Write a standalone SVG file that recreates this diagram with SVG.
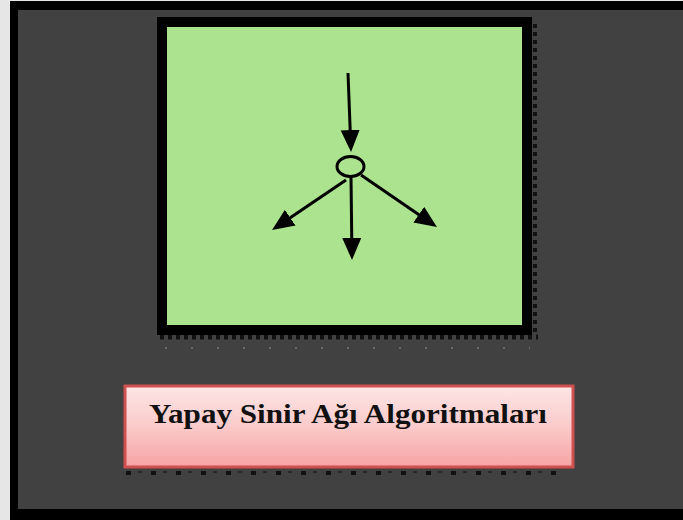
<svg xmlns="http://www.w3.org/2000/svg" width="683" height="520" viewBox="0 0 683 520">
  <defs>
    <linearGradient id="pinkGrad" x1="0" y1="0" x2="0" y2="1">
      <stop offset="0" stop-color="#fde6e6"/>
      <stop offset="0.5" stop-color="#fbcaca"/>
      <stop offset="1" stop-color="#f6a3a3"/>
    </linearGradient>
    <marker id="arrow" markerUnits="userSpaceOnUse" markerWidth="24" markerHeight="20" refX="13" refY="9.5" orient="auto">
      <path d="M0,0 L22,9.5 L0,19 z" fill="#000"/>
    </marker>
  </defs>
  <style>
    .conn { stroke: #000; stroke-width: 3; fill: none; marker-end: url(#arrow); }
    .shadowDots { stroke: #111; fill: none; }
    .label { font-family: "Liberation Serif", "Times New Roman", serif; font-weight: bold; font-size: 28px; fill: #111; }
  </style>

  <!-- page background and frame -->
  <rect x="0" y="0" width="683" height="520" fill="#e6e6e6"/>
  <rect x="10" y="1" width="673" height="519" fill="#000"/>
  <rect x="18" y="10" width="665" height="499" fill="#414141"/>

  <g id="neuron-box">
    <!-- dotted shadow -->
    <line class="shadowDots" x1="535" y1="24" x2="535" y2="336" stroke-width="4" stroke-dasharray="4 4"/>
    <line class="shadowDots" x1="160" y1="337" x2="538" y2="337" stroke-width="5" stroke-dasharray="4 4"/>
    <line x1="165" y1="348" x2="530" y2="348" stroke="#777" stroke-width="1.5" stroke-dasharray="2 24"/>
    <rect x="162" y="22" width="365" height="308" fill="#ace38f" stroke="#000" stroke-width="10"/>
  </g>

  <g id="neuron">
    <ellipse cx="350.5" cy="166.5" rx="13.5" ry="10" fill="#ace38f" stroke="#000" stroke-width="3"/>
  </g>

  <g id="connectors">
    <path class="conn" d="M348,73 L350.7,143"/>
    <path class="conn" d="M351,177 L351.9,251"/>
    <path class="conn" d="M346,180 L279.5,225"/>
    <path class="conn" d="M361,175 L429.5,222"/>
  </g>

  <g id="title-box">
    <line class="shadowDots" x1="126" y1="473" x2="563" y2="473" stroke-width="4" stroke-dasharray="5 20"/>
    <line x1="138" y1="472" x2="563" y2="472" stroke="#222" stroke-width="1.5" stroke-dasharray="4 21"/>
    <rect x="125" y="386" width="448" height="81" fill="url(#pinkGrad)" stroke="#cf5050" stroke-width="3"/>
    <text class="label" x="348" y="423" text-anchor="middle" textLength="398" lengthAdjust="spacingAndGlyphs">Yapay Sinir Ağı Algoritmaları</text>
  </g>
</svg>
